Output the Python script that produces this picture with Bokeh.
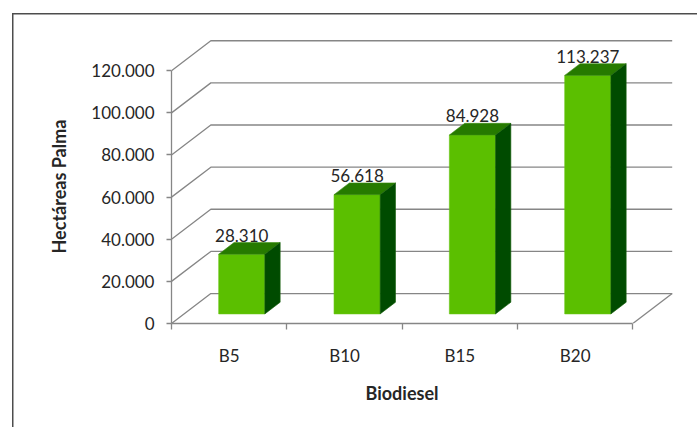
from bokeh.plotting import figure
from bokeh.models import Range1d, FixedTicker, Title
from bokeh.embed import file_html
from bokeh.resources import INLINE
from bokeh.core.properties import value

# Data
categories = ["B5", "B10", "B15", "B20"]
hectares = [28310, 56618, 84928, 113237]
y_ticks = [0, 20000, 40000, 60000, 80000, 100000, 120000]


def fmt(v):
    # Spanish style thousands separator
    return f"{v:,}".replace(",", ".")


FONT = "Lato"
TEXT_COLOR = "#262626"
GRID_COLOR = "#868686"
FRAME_LINE = "#4d4d4d"

# Pseudo-3D geometry (x in category units, y in value units)
DEPTH_X = 0.341
DEPTH_Y = 14230
BAR_W = 0.40
FRONT_T = 0.32
BACK_T = 0.71
Y_MAX = 120000

FRONT_COLOR = "#5bbf00"
TOP_COLOR = "#267a00"
SIDE_COLOR = "#004b00"

n = len(categories)

# Thin frame line along the top and left of the chart area (CSS, behind the canvas)
frame_css = (
    f"linear-gradient({FRAME_LINE}, {FRAME_LINE}) 12px 13px / 1.5px 500px no-repeat, "
    f"linear-gradient({FRAME_LINE}, {FRAME_LINE}) 12px 13px / 800px 1.5px no-repeat"
)

p = figure(
    width=697, height=427,
    output_backend="svg", toolbar_location=None,
    x_range=Range1d(0, n + DEPTH_X + 0.02),
    y_range=Range1d(0, Y_MAX + DEPTH_Y + 600),
    min_border_left=171, min_border_right=23,
    min_border_top=39, min_border_bottom=104,
    background_fill_color="white", border_fill_color=None,
    styles={"background": frame_css},
)
p.outline_line_color = None
p.xgrid.visible = False
p.ygrid.visible = False

# Back wall gridlines together with the left wall diagonals
grid_xs = [[0, DEPTH_X, n + DEPTH_X] for _ in y_ticks]
grid_ys = [[t, t + DEPTH_Y, t + DEPTH_Y] for t in y_ticks]
p.multi_line(grid_xs, grid_ys, line_color=GRID_COLOR, line_width=1.3)
# Right edge of the floor
p.line([n, n + DEPTH_X], [0, DEPTH_Y], line_color=GRID_COLOR, line_width=1.3)

# Bars
ddx = (BACK_T - FRONT_T) * DEPTH_X
ddy = (BACK_T - FRONT_T) * DEPTH_Y
front_l, front_r, front_b, front_t = [], [], [], []
top_xs, top_ys, side_xs, side_ys = [], [], [], []
lab_x, lab_y, lab_text = [], [], []
for i, v in enumerate(hectares):
    c = i + 0.5
    xl = c - BAR_W / 2 + FRONT_T * DEPTH_X
    xr = xl + BAR_W
    yb = FRONT_T * DEPTH_Y
    yt = v + yb
    front_l.append(xl)
    front_r.append(xr)
    front_b.append(yb)
    front_t.append(yt)
    top_xs.append([xl, xr, xr + ddx, xl + ddx])
    top_ys.append([yt, yt, yt + ddy, yt + ddy])
    side_xs.append([xr, xr + ddx, xr + ddx, xr])
    side_ys.append([yb, yb + ddy, yt + ddy, yt])
    lab_x.append((xl + xr) / 2)
    lab_y.append(v + BACK_T * DEPTH_Y)
    lab_text.append(fmt(v))

p.quad(left=front_l, right=front_r, bottom=front_b, top=front_t,
       fill_color=FRONT_COLOR, line_color="#66c612", line_width=0.6)
p.patches(top_xs, top_ys, fill_color=TOP_COLOR, line_color="#3a8c10", line_width=0.6)
p.patches(side_xs, side_ys, fill_color=SIDE_COLOR, line_color="#16600a", line_width=0.6)

p.text(x=lab_x, y=lab_y, text=lab_text, text_align="center", text_baseline="bottom",
       y_offset=-1, text_font=value(FONT), text_font_size="17px", text_color=TEXT_COLOR)

# Value axis
p.yaxis.ticker = FixedTicker(ticks=y_ticks, minor_ticks=[])
p.yaxis.major_label_overrides = {t: fmt(t) for t in y_ticks}
p.yaxis.bounds = (0, Y_MAX)
p.yaxis.major_tick_in = 0
p.yaxis.major_tick_out = 5
p.yaxis.major_label_standoff = 12

# Category axis: labels at centres, ticks between categories
p.xaxis.ticker = FixedTicker(ticks=[i + 0.5 for i in range(n)], minor_ticks=list(range(n + 1)))
p.xaxis.major_label_overrides = {i + 0.5: c for i, c in enumerate(categories)}
p.xaxis.bounds = (0, n)
p.xaxis.major_tick_in = 0
p.xaxis.major_tick_out = 0
p.xaxis.minor_tick_in = 0
p.xaxis.minor_tick_out = 6
p.xaxis.major_label_standoff = 15

for ax in (p.xaxis[0], p.yaxis[0]):
    ax.axis_line_color = GRID_COLOR
    ax.axis_line_width = 1.3
    ax.major_tick_line_color = GRID_COLOR if ax is p.yaxis[0] else None
    ax.minor_tick_line_color = GRID_COLOR if ax is p.xaxis[0] else None
    ax.major_tick_line_width = 1.3
    ax.minor_tick_line_width = 1.3
    ax.major_label_text_font = FONT
    ax.major_label_text_font_size = "17px"
    ax.major_label_text_color = TEXT_COLOR

# Axis titles, placed along the front axes
title_style = dict(text_font=FONT, text_font_size="18px", text_font_style="bold",
                   text_color=TEXT_COLOR, align="left")
p.add_layout(Title(text="Biodiesel", offset=194, standoff=22, **title_style), "below")
p.add_layout(Title(text="Hectáreas Palma", offset=70, standoff=37, **title_style), "left")

open("out.html", "w").write(file_html(p, INLINE))
